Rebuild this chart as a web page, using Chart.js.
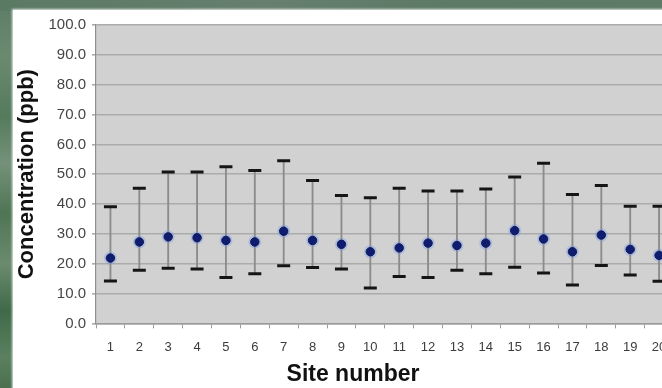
<!DOCTYPE html>
<html>
<head>
<meta charset="utf-8">
<script src="https://cdn.jsdelivr.net/npm/chart.js@4/dist/chart.umd.min.js"></script>
<style>
  html, body { margin: 0; padding: 0; width: 662px; height: 388px; overflow: hidden; }
  body { position: relative; background: #5f7e68; }
  #left-edge {
    position: absolute; left: 0; top: 0; width: 16px; height: 388px;
    background: linear-gradient(180deg, #5d7c66 0%, #6a8a70 15%, #557a5c 30%, #74927a 42%, #4f7554 55%, #6b8b6f 68%, #3f6a48 80%, #5a8060 92%, #4a7050 100%);
  }
  #top-edge {
    position: absolute; left: 0; top: 0; width: 662px; height: 11px;
    background: linear-gradient(90deg, #5b7a64, #667f6e 40%, #5c7a66 70%, #5d7b67);
  }
  #frame {
    position: absolute; left: 13px; top: 10px; width: 700px; height: 400px;
    background: #ffffff; box-shadow: 0 0 2px 1px rgba(255,255,255,0.8);
  }
  #chart { position: absolute; left: 13px; top: 10px; }
</style>
</head>
<body>
<div id="left-edge"></div>
<div id="top-edge"></div>
<div id="frame"></div>
<canvas id="chart" width="670" height="378"></canvas>
<script>
// Site labels along the x axis
const sites = ['1','2','3','4','5','6','7','8','9','10','11','12','13','14','15','16','17','18','19','20'];

// Concentration per site (ppb): average, minimum and maximum
const meanConc = [21.9, 27.3, 29.0, 28.7, 27.8, 27.3, 30.9, 27.8, 26.5, 24.0, 25.3, 26.9, 26.1, 26.9, 31.1, 28.3, 24.0, 29.6, 24.8, 22.8];
const minConc  = [14.2, 17.8, 18.5, 18.2, 15.4, 16.6, 19.3, 18.7, 18.2, 11.9, 15.7, 15.4, 17.8, 16.6, 18.8, 16.9, 12.9, 19.4, 16.2, 14.1];
const maxConc  = [39.1, 45.3, 50.7, 50.7, 52.5, 51.2, 54.5, 47.9, 42.9, 42.1, 45.3, 44.4, 44.4, 45.0, 49.1, 53.7, 43.2, 46.2, 39.3, 39.3];

// Y axis range and step
const yMin = 0, yMax = 100, yStep = 10;

const FONT = "'Liberation Sans', Arial, sans-serif";

// Grey plot background behind the chart area
const plotBackground = {
  id: 'plotBackground',
  beforeDraw(chart) {
    const { ctx, chartArea: a } = chart;
    ctx.save();
    ctx.fillStyle = '#d1d1d1';
    ctx.fillRect(a.left, a.top, a.right - a.left, a.bottom - a.top);
    ctx.restore();
  }
};

new Chart(document.getElementById('chart'), {
  data: {
    labels: sites,
    datasets: [
      {
        // soft halo around each average marker
        type: 'line',
        data: meanConc,
        showLine: false,
        pointRadius: 6.5,
        pointBackgroundColor: 'rgba(110,150,235,0.35)',
        pointBorderWidth: 0,
        order: 1
      },
      {
        type: 'line',
        label: 'Average',
        data: meanConc,
        showLine: false,
        pointRadius: 4.2,
        pointBackgroundColor: '#101c6e',
        pointBorderColor: '#0c1760',
        pointBorderWidth: 1,
        order: 0
      },
      {
        type: 'line',
        label: 'Maximum',
        data: maxConc,
        showLine: false,
        pointStyle: 'line',
        pointRadius: 6.5,
        pointBorderColor: '#151515',
        pointBorderWidth: 3,
        order: 2
      },
      {
        type: 'line',
        label: 'Minimum',
        data: minConc,
        showLine: false,
        pointStyle: 'line',
        pointRadius: 6.5,
        pointBorderColor: '#151515',
        pointBorderWidth: 3,
        order: 2
      },
      {
        // range line from minimum to maximum
        type: 'bar',
        label: 'Range',
        data: minConc.map((lo, i) => [lo, maxConc[i]]),
        backgroundColor: '#8c8c8c',
        borderWidth: 0,
        barThickness: 1.2,
        order: 3
      }
    ]
  },
  options: {
    responsive: false,
    animation: false,
    devicePixelRatio: 1,
    events: [],
    layout: { padding: { left: 16, right: 6, top: 12, bottom: 0 } },
    plugins: {
      legend: { display: false },
      tooltip: { enabled: false },
      title: {
        display: true,
        position: 'bottom',
        text: 'Site number',
        color: '#111',
        font: { family: FONT, size: 23, weight: 'bold', lineHeight: 1.2 },
        padding: { top: 5, bottom: 0 }
      }
    },
    scales: {
      x: {
        type: 'category',
        offset: true,
        afterFit(scale) { scale.height = 32; },
        grid: {
          display: true,
          offset: true,
          drawOnChartArea: false,
          drawTicks: true,
          tickLength: 5,
          color: '#9a9a9a'
        },
        border: { display: true, color: '#9a9a9a', width: 1.5 },
        ticks: {
          color: '#3c3c3c',
          font: { family: FONT, size: 13 },
          padding: 11,
          maxRotation: 0,
          autoSkip: false
        }
      },
      y: {
        min: yMin,
        max: yMax,
        afterFit(scale) { scale.width = 67; },
        grid: {
          color: '#ababab',
          lineWidth: 1.6,
          drawTicks: true,
          tickLength: 4
        },
        border: { display: true, color: '#8f8f8f', width: 1.2 },
        ticks: {
          stepSize: yStep,
          color: '#454545',
          font: { family: FONT, size: 15 },
          padding: 6,
          callback: v => Number(v).toFixed(1)
        },
        title: {
          display: true,
          text: 'Concentration (ppb)',
          color: '#111',
          font: { family: FONT, size: 22, weight: 'bold', lineHeight: 1.2 },
          padding: { top: -15, bottom: 0 }
        }
      }
    }
  },
  plugins: [plotBackground]
});
</script>
</body>
</html>
